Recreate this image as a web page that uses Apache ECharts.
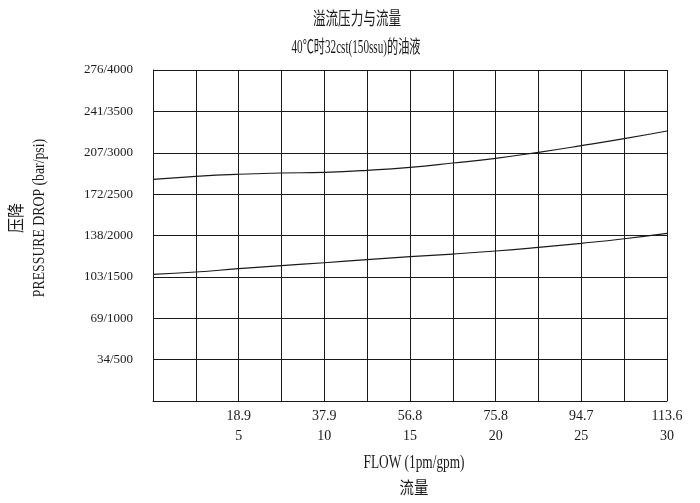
<!DOCTYPE html>
<html>
<head>
<meta charset="utf-8">
<script src="https://cdn.jsdelivr.net/npm/echarts@6/dist/echarts.min.js"></script>
<style>html,body{margin:0;padding:0;background:#fff}#c{width:700px;height:503px}</style>
</head>
<body>
<div id="c"></div>
<script>
// Flow in gpm (x), pressure drop in psi (y)
var flowGpm = [0, 2.5, 5, 7.5, 10, 12.5, 15, 17.5, 20, 22.5, 25, 27.5, 30];
var upperPsi = [2679, 2715, 2740, 2755, 2764, 2788, 2824, 2876, 2933, 3005, 3085, 3170, 3263];
var lowerPsi = [1531, 1559, 1599, 1635, 1671, 1708, 1744, 1776, 1813, 1857, 1906, 1961, 2026];

// Tick labels
var xTickGpm = [5, 10, 15, 20, 25, 30];
var xTickLpm = ['18.9', '37.9', '56.8', '75.8', '94.7', '113.6'];
var yTickPsi = [500, 1000, 1500, 2000, 2500, 3000, 3500, 4000];
var yTickBar = ['34', '69', '103', '138', '172', '207', '241', '276'];

var titleText = '溢流压力与流量';
var subText = '40℃时32cst(150ssu)的油液';
var yNameCn = '压降';
var yNameEn = 'PRESSURE DROP (bar/psi)';
var xNameEn = 'FLOW (1pm/gpm)';
var xNameCn = '流量';

var serif = '"Liberation Serif", "Noto Sans CJK SC", serif';
var cjk = '"Noto Sans CJK SC", sans-serif';
var ink = '#1a1a1a';

function pairs(xs, ys) { return xs.map(function (x, i) { return [x, ys[i]]; }); }

function label(text, x, y, font, sx, rot) {
  return {
    type: 'text', x: x, y: y, scaleX: sx, rotation: rot || 0,
    style: { text: text, font: font, fill: ink, textAlign: 'center', textVerticalAlign: 'middle' }
  };
}

var chart = echarts.init(document.getElementById('c'), null, { renderer: 'canvas' });
chart.setOption({
  animation: false,
  backgroundColor: '#fff',
  grid: { left: 153, right: 33, top: 70, bottom: 102, containLabel: false },
  graphic: [
    label(titleText, 357, 18, '18px ' + cjk, 0.7),
    label(subText, 356, 48, '18px ' + serif, 0.62),
    label(yNameCn, 16, 218, '17px ' + cjk, 0.88, Math.PI / 2),
    label(yNameEn, 40, 218, '16px ' + serif, 0.86, Math.PI / 2),
    label(xNameEn, 414, 463, '18px ' + serif, 0.74),
    label(xNameCn, 414, 488, '17px ' + cjk, 0.85)
  ],
  xAxis: {
    type: 'value', min: 0, max: 30, interval: 2.5,
    axisLine: { show: true, lineStyle: { color: ink, width: 1 } },
    axisTick: { show: false },
    splitLine: { show: true, lineStyle: { color: ink, width: 1 } },
    axisLabel: {
      margin: 5, fontFamily: serif, fontSize: 14, color: ink, lineHeight: 20,
      formatter: function (v) {
        var i = xTickGpm.indexOf(v);
        return i < 0 ? '' : xTickLpm[i] + '\n' + xTickGpm[i];
      }
    }
  },
  yAxis: {
    type: 'value', min: 0, max: 4000, interval: 500,
    axisLine: { show: true, lineStyle: { color: ink, width: 1 } },
    axisTick: { show: false },
    splitLine: { show: true, lineStyle: { color: ink, width: 1 } },
    axisLabel: {
      margin: 20, fontFamily: serif, fontSize: 13, color: ink,
      formatter: function (v) {
        var i = yTickPsi.indexOf(v);
        return i < 0 ? '' : yTickBar[i] + '/' + yTickPsi[i];
      }
    }
  },
  series: [
    { type: 'line', data: pairs(flowGpm, upperPsi), smooth: true, showSymbol: false, lineStyle: { color: ink, width: 1.2 } },
    { type: 'line', data: pairs(flowGpm, lowerPsi), smooth: true, showSymbol: false, lineStyle: { color: ink, width: 1.2 } }
  ]
});
</script>
</body>
</html>
